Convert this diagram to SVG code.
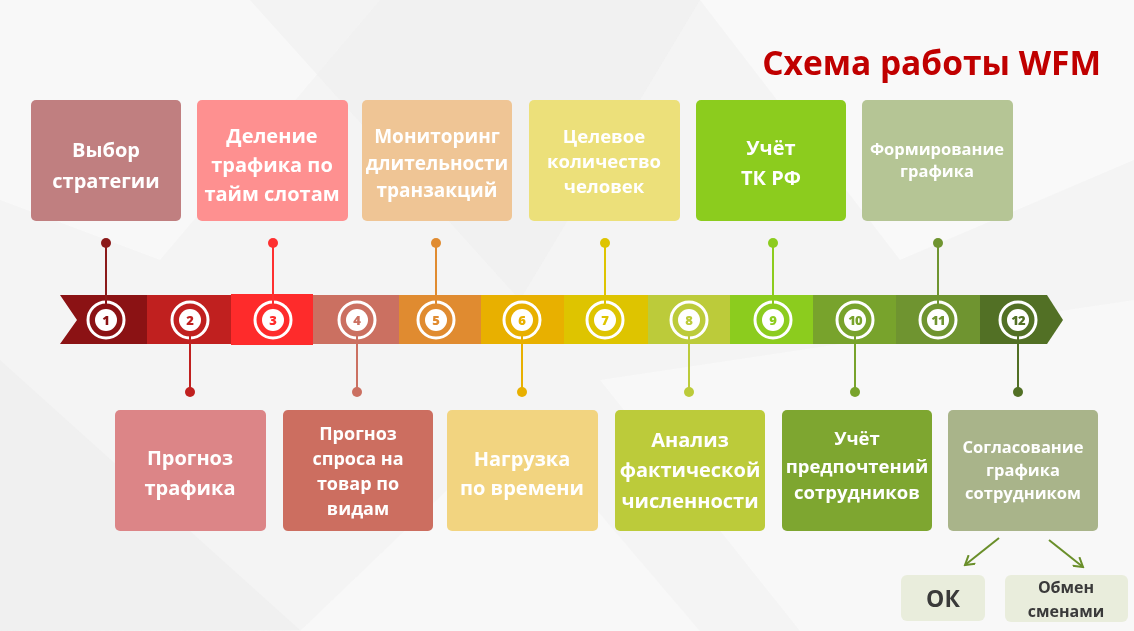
<svg xmlns="http://www.w3.org/2000/svg" width="1134" height="631" viewBox="0 0 1134 631">
<defs>
<style>
.t{font-family:"Open Sans","Liberation Sans",sans-serif;font-weight:bold;fill:#ffffff;text-anchor:middle}
.d{font-family:"Open Sans","Liberation Sans",sans-serif;font-weight:bold;fill:#3a3a3a;text-anchor:middle}
.num{font-family:"Open Sans","Liberation Sans",sans-serif;font-weight:800;font-size:13px;text-anchor:middle}
.ring{fill:none;stroke:#ffffff;stroke-width:3}
.inner{fill:#ffffff}
.ln{stroke-width:2;fill:none}
.arr{stroke:#6a8f2a;stroke-width:2;fill:none}
</style>
<marker id="vhead" viewBox="0 0 12 12" refX="10" refY="6" markerWidth="12" markerHeight="12" markerUnits="userSpaceOnUse" orient="auto">
<path d="M1,0.5 L10,6 L1,11.5" fill="none" stroke="#6a8f2a" stroke-width="2"/>
</marker>
</defs>
<rect width="1134" height="631" fill="#f4f4f4"/>
<g id="background" opacity="0.7">
<polygon points="0,0 380,0 160,260 0,200" fill="#fafafa"/>
<polygon points="250,0 700,0 520,300" fill="#ececec" opacity="0.5"/>
<polygon points="700,0 1134,0 1134,160 900,260" fill="#fbfbfb"/>
<polygon points="0,360 300,630 0,631" fill="#ebebeb" opacity="0.6"/>
<polygon points="600,380 1134,300 1134,631 800,631" fill="#fafafa"/>
<polygon points="300,631 520,420 700,631" fill="#f9f9f9"/>
</g>
<g id="title"><text x="1101" y="75" font-family="'Open Sans','Liberation Sans',sans-serif" font-weight="bold" font-size="33.5" fill="#c00000" text-anchor="end">Схема работы WFM</text></g>
<g id="band">
<polygon points="60,295 147,295 147,344 60,344 77,320" fill="#8b1214"/>
<rect x="147" y="295" width="84" height="49" fill="#c0201f"/>
<rect x="231" y="294" width="82" height="51" fill="#fe2b2b"/>
<rect x="313" y="295" width="86" height="49" fill="#cb7061"/>
<rect x="399" y="295" width="82" height="49" fill="#e08b30"/>
<rect x="481" y="295" width="83" height="49" fill="#e8b000"/>
<rect x="564" y="295" width="84" height="49" fill="#dec400"/>
<rect x="648" y="295" width="82" height="49" fill="#bccb3a"/>
<rect x="730" y="295" width="83" height="49" fill="#8ccc1e"/>
<rect x="813" y="295" width="83" height="49" fill="#78a32c"/>
<rect x="896" y="295" width="84" height="49" fill="#6f9430"/>
<polygon points="980,295 1047,295 1063,320 1047,344 980,344" fill="#527025"/>
</g>
<g id="connectors">
<line class="ln" x1="106" y1="243" x2="106" y2="309" stroke="#8b1a1a"/><circle cx="106" cy="243" r="5" fill="#8b1a1a"/>
<line class="ln" x1="273" y1="243" x2="273" y2="309" stroke="#fe3030"/><circle cx="273" cy="243" r="5" fill="#fe3030"/>
<line class="ln" x1="436" y1="243" x2="436" y2="309" stroke="#e08b30"/><circle cx="436" cy="243" r="5" fill="#e08b30"/>
<line class="ln" x1="605" y1="243" x2="605" y2="309" stroke="#dec400"/><circle cx="605" cy="243" r="5" fill="#dec400"/>
<line class="ln" x1="773" y1="243" x2="773" y2="309" stroke="#8ccc1e"/><circle cx="773" cy="243" r="5" fill="#8ccc1e"/>
<line class="ln" x1="938" y1="243" x2="938" y2="309" stroke="#6f9430"/><circle cx="938" cy="243" r="5" fill="#6f9430"/>
<line class="ln" x1="190" y1="331" x2="190" y2="392" stroke="#c0201f"/><circle cx="190" cy="392" r="5" fill="#c0201f"/>
<line class="ln" x1="357" y1="331" x2="357" y2="392" stroke="#cb7061"/><circle cx="357" cy="392" r="5" fill="#cb7061"/>
<line class="ln" x1="522" y1="331" x2="522" y2="392" stroke="#e8b000"/><circle cx="522" cy="392" r="5" fill="#e8b000"/>
<line class="ln" x1="689" y1="331" x2="689" y2="392" stroke="#bccb3a"/><circle cx="689" cy="392" r="5" fill="#bccb3a"/>
<line class="ln" x1="855" y1="331" x2="855" y2="392" stroke="#78a32c"/><circle cx="855" cy="392" r="5" fill="#78a32c"/>
<line class="ln" x1="1018" y1="331" x2="1018" y2="392" stroke="#527025"/><circle cx="1018" cy="392" r="5" fill="#527025"/>
<line class="arr" x1="999" y1="538" x2="965" y2="565" marker-end="url(#vhead)"/>
<line class="arr" x1="1049" y1="540" x2="1083" y2="567" marker-end="url(#vhead)"/>
</g>
<g id="steps">
<g id="step-1"><circle class="ring" cx="106" cy="320" r="18"/><line class="ln" x1="106" y1="300" x2="106" y2="309" stroke="#8b1214"/><circle class="inner" cx="106" cy="320" r="11"/><text class="num" x="106" y="324.5" fill="#8b1214">1</text></g>
<g id="step-2"><circle class="ring" cx="190" cy="320" r="18"/><line class="ln" x1="190" y1="331" x2="190" y2="340" stroke="#c0201f"/><circle class="inner" cx="190" cy="320" r="11"/><text class="num" x="190" y="324.5" fill="#c0201f">2</text></g>
<g id="step-3"><circle class="ring" cx="273" cy="320" r="18"/><line class="ln" x1="273" y1="300" x2="273" y2="309" stroke="#fe3030"/><circle class="inner" cx="273" cy="320" r="11"/><text class="num" x="273" y="324.5" fill="#fe2b2b">3</text></g>
<g id="step-4"><circle class="ring" cx="357" cy="320" r="18"/><line class="ln" x1="357" y1="331" x2="357" y2="340" stroke="#cb7061"/><circle class="inner" cx="357" cy="320" r="11"/><text class="num" x="357" y="324.5" fill="#cb7061">4</text></g>
<g id="step-5"><circle class="ring" cx="436" cy="320" r="18"/><line class="ln" x1="436" y1="300" x2="436" y2="309" stroke="#e08b30"/><circle class="inner" cx="436" cy="320" r="11"/><text class="num" x="436" y="324.5" fill="#e08b30">5</text></g>
<g id="step-6"><circle class="ring" cx="522" cy="320" r="18"/><line class="ln" x1="522" y1="331" x2="522" y2="340" stroke="#e8b000"/><circle class="inner" cx="522" cy="320" r="11"/><text class="num" x="522" y="324.5" fill="#e8b000">6</text></g>
<g id="step-7"><circle class="ring" cx="605" cy="320" r="18"/><line class="ln" x1="605" y1="300" x2="605" y2="309" stroke="#dec400"/><circle class="inner" cx="605" cy="320" r="11"/><text class="num" x="605" y="324.5" fill="#dec400">7</text></g>
<g id="step-8"><circle class="ring" cx="689" cy="320" r="18"/><line class="ln" x1="689" y1="331" x2="689" y2="340" stroke="#bccb3a"/><circle class="inner" cx="689" cy="320" r="11"/><text class="num" x="689" y="324.5" fill="#bccb3a">8</text></g>
<g id="step-9"><circle class="ring" cx="773" cy="320" r="18"/><line class="ln" x1="773" y1="300" x2="773" y2="309" stroke="#8ccc1e"/><circle class="inner" cx="773" cy="320" r="11"/><text class="num" x="773" y="324.5" fill="#8ccc1e">9</text></g>
<g id="step-10"><circle class="ring" cx="855" cy="320" r="18"/><line class="ln" x1="855" y1="331" x2="855" y2="340" stroke="#78a32c"/><circle class="inner" cx="855" cy="320" r="11"/><text class="num" x="855" y="324.5" fill="#78a32c" letter-spacing="-0.8">10</text></g>
<g id="step-11"><circle class="ring" cx="938" cy="320" r="18"/><line class="ln" x1="938" y1="300" x2="938" y2="309" stroke="#6f9430"/><circle class="inner" cx="938" cy="320" r="11"/><text class="num" x="938" y="324.5" fill="#6f9430" letter-spacing="-0.8">11</text></g>
<g id="step-12"><circle class="ring" cx="1018" cy="320" r="18"/><line class="ln" x1="1018" y1="331" x2="1018" y2="340" stroke="#527025"/><circle class="inner" cx="1018" cy="320" r="11"/><text class="num" x="1018" y="324.5" fill="#527025" letter-spacing="-0.8">12</text></g>
</g>
<g id="box-1"><rect x="31" y="100" width="150" height="121" rx="5" fill="#c07f80"/><text class="t" font-size="20"><tspan x="106" y="157">Выбор</tspan><tspan x="106" y="188">стратегии</tspan></text></g>
<g id="box-3"><rect x="197" y="100" width="151" height="121" rx="5" fill="#fe9090"/><text class="t" font-size="20"><tspan x="272" y="143">Деление</tspan><tspan x="272" y="172">трафика по</tspan><tspan x="272" y="201">тайм слотам</tspan></text></g>
<g id="box-5"><rect x="362" y="100" width="150" height="121" rx="5" fill="#efc595"/><text class="t" font-size="19"><tspan x="437" y="143">Мониторинг</tspan><tspan x="437" y="170">длительности</tspan><tspan x="437" y="197">транзакций</tspan></text></g>
<g id="box-7"><rect x="529" y="100" width="151" height="121" rx="5" fill="#ece07a"/><text class="t" font-size="18.5"><tspan x="604" y="143">Целевое</tspan><tspan x="604" y="168">количество</tspan><tspan x="604" y="193">человек</tspan></text></g>
<g id="box-9"><rect x="696" y="100" width="150" height="121" rx="5" fill="#8ccc1e"/><text class="t" font-size="20"><tspan x="771" y="155">Учёт</tspan><tspan x="771" y="185">ТК РФ</tspan></text></g>
<g id="box-11"><rect x="862" y="100" width="151" height="121" rx="5" fill="#b5c595"/><text class="t" font-size="16.5"><tspan x="937" y="155">Формирование</tspan><tspan x="937" y="177">графика</tspan></text></g>
<g id="box-2"><rect x="115" y="410" width="151" height="121" rx="5" fill="#dc8587"/><text class="t" font-size="20"><tspan x="190" y="465">Прогноз</tspan><tspan x="190" y="495">трафика</tspan></text></g>
<g id="box-4"><rect x="283" y="410" width="150" height="121" rx="5" fill="#cc6e60"/><text class="t" font-size="18"><tspan x="358" y="440">Прогноз</tspan><tspan x="358" y="465">спроса на</tspan><tspan x="358" y="490">товар по</tspan><tspan x="358" y="515">видам</tspan></text></g>
<g id="box-6"><rect x="447" y="410" width="151" height="121" rx="5" fill="#f2d480"/><text class="t" font-size="20"><tspan x="522" y="466">Нагрузка</tspan><tspan x="522" y="495">по времени</tspan></text></g>
<g id="box-8"><rect x="615" y="410" width="150" height="121" rx="5" fill="#bccb3a"/><text class="t" font-size="20"><tspan x="690" y="447">Анализ</tspan><tspan x="690" y="477">фактической</tspan><tspan x="690" y="508">численности</tspan></text></g>
<g id="box-10"><rect x="782" y="410" width="150" height="121" rx="5" fill="#7ea630"/><text class="t" font-size="18.5"><tspan x="857" y="445">Учёт</tspan><tspan x="857" y="473">предпочтений</tspan><tspan x="857" y="499">сотрудников</tspan></text></g>
<g id="box-12"><rect x="948" y="410" width="150" height="121" rx="5" fill="#a9b48a"/><text class="t" font-size="16.5"><tspan x="1023" y="453">Согласование</tspan><tspan x="1023" y="476">графика</tspan><tspan x="1023" y="499">сотрудником</tspan></text></g>
<g id="box-ok"><rect x="901" y="575" width="84" height="46" rx="6" fill="#e9eddc"/><text class="d" font-size="23" x="943" y="607">ОК</text></g>
<g id="box-swap"><rect x="1005" y="575" width="123" height="47" rx="6" fill="#e9eddc"/><text class="d" font-size="16"><tspan x="1066" y="593">Обмен</tspan><tspan x="1066" y="617">сменами</tspan></text></g>
</svg>
